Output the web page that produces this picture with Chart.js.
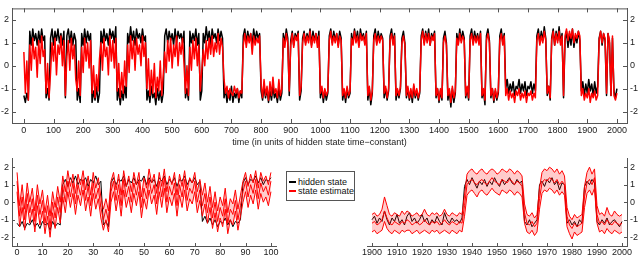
<!DOCTYPE html>
<html>
<head>
<meta charset="utf-8">
<script src="https://cdn.jsdelivr.net/npm/chart.js@4.4.1/dist/chart.umd.min.js"></script>
<style>
  html, body { margin: 0; padding: 0; background: #fff; }
  #wrap { position: relative; width: 640px; height: 256px; overflow: hidden; font-family: "Liberation Sans", Arial, sans-serif; }
  canvas { position: absolute; }
  #topChart { left: 0; top: 0; }
  #leftChart { left: 0; top: 150px; }
  #rightChart { left: 350px; top: 150px; }
  #legend { position: absolute; left: 286px; top: 171px; width: 67px; height: 28px; border: 1px solid #555; background: #fff; font-size: 9px; color: #111; }
  .item { position: absolute; left: 2px; height: 10px; line-height: 10px; white-space: nowrap; }
  .item i { display: inline-block; width: 7px; height: 2px; vertical-align: middle; margin-right: 2px; margin-top: -1px; }
</style>
</head>
<body>
<div id="wrap">
  <canvas id="topChart" width="640" height="150"></canvas>
  <canvas id="leftChart" width="290" height="106"></canvas>
  <canvas id="rightChart" width="290" height="106"></canvas>
  <div id="legend">
    <div class="item" style="top:5px"><i style="background:#000"></i>hidden state</div>
    <div class="item" style="top:14px"><i style="background:#f00"></i>state estimate</div>
  </div>
</div>
<script>
"use strict";

// tick labels
const topTicksX = [0, 100, 200, 300, 400, 500, 600, 700, 800, 900, 1000, 1100, 1200, 1300, 1400, 1500, 1600, 1700, 1800, 1900, 2000];
const leftTicksX = [0, 10, 20, 30, 40, 50, 60, 70, 80, 90, 100];
const rightTicksX = [1900, 1910, 1920, 1930, 1940, 1950, 1960, 1970, 1980, 1990, 2000];
const yTicks = [-2, -1, 0, 1, 2];

// top panel, one value every 5 time units from 0 to 2000
const TOP_STEP = 5;
const topHidden = [
  -1.3,-1.6,-1.2,-1.5,
  1.5,0.9,1.6,1.1,1.4,0.9,1.5,1.0,1.6,1.1,1.3,
  -1.4,-1.0,-1.5,
  1.2,1.6,0.9,1.5,1.1,1.6,1.0,1.4,0.9,1.5,
  -1.4,
  1.3,1.6,1.0,1.5,0.9,1.4,1.1,
  -1.5,-1.0,-1.6,
  1.4,0.9,1.6,1.0,1.5,1.1,1.4,
  -1.6,-1.1,-1.5,-0.9,-1.6,-1.2,
  1.5,1.0,1.6,1.1,1.4,0.9,1.6,1.2,1.5,1.0,1.7,
  -1.5,-1.0,-1.7,-1.1,-1.5,-0.9,-1.4,
  1.4,1.0,1.7,1.1,1.5,0.9,1.6,1.2,1.4,1.0,1.6,1.1,1.3,
  -1.5,-1.1,-1.6,-0.9,-1.4,-1.2,-1.7,-1.0,-1.5,-1.1,-1.6,-1.2,
  1.3,1.6,1.0,1.5,1.1,1.4,0.9,1.6,1.0,1.5,1.2,1.4,1.0,1.5,
  -1.4,-1.0,-1.5,
  1.5,1.0,1.4,1.1,1.6,0.9,1.4,
  -1.5,-1.1,
  1.4,1.0,1.7,1.1,1.5,0.9,1.6,1.2,1.4,1.0,1.6,1.1,1.5,1.2,
  -1.4,-1.0,-1.6,-1.1,-1.5,-0.9,-1.6,-1.2,-1.4,-1.0,-1.6,-1.1,-1.4,
  1.3,1.6,1.0,1.5,1.1,1.4,0.9,1.6,1.1,1.5,1.2,1.4,
  -1.1,-1.5,-0.9,-1.4,-1.0,-1.6,-1.1,-1.5,-0.9,-1.4,-1.2,-1.6,-1.0,-1.5,-1.2,
  1.4,1.0,1.6,1.2,
  -1.3,
  1.1,1.5,0.9,1.4,1.2,1.5,
  -1.5,-1.1,
  1.2,1.5,1.0,1.4,1.1,1.6,0.9,1.5,1.1,1.4,1.0,1.5,
  -1.4,-1.0,-1.6,-1.1,-1.5,-1.2,
  1.3,1.6,1.0,1.5,1.1,1.4,0.9,1.5,1.2,
  -1.5,-1.1,-1.6,-1.0,-1.4,-1.2,
  1.4,1.0,1.6,1.1,1.5,0.9,1.6,1.2,1.4,1.0,1.5,
  -1.5,-1.0,-1.7,-1.2,
  1.3,1.6,1.0,1.5,1.1,1.4,1.2,
  -1.4,-1.0,-1.5,-1.1,
  1.3,1.6,1.0,1.4,
  -1.5,-1.1,-1.4,-1.0,
  1.2,1.5,1.0,
  -1.4,-1.0,-1.5,-1.1,-1.6,-0.9,-1.4,-1.1,-1.5,-1.2,
  1.3,1.6,1.0,1.5,1.1,1.6,0.9,1.4,1.2,1.5,
  -1.4,-1.0,-1.6,-1.1,-1.5,
  1.2,1.5,1.0,
  -1.5,-1.1,-1.8,-1.0,-1.6,-1.2,
  1.4,1.0,1.6,1.1,1.5,1.2,
  -1.4,-1.0,-1.5,
  1.3,1.6,1.0,1.5,1.1,1.4,1.0,1.5,
  -1.4,-1.1,-1.7,
  1.3,1.6,1.1,
  -1.4,-1.0,-1.6,-1.1,-1.5,-1.2,
  1.3,1.6,1.0,1.4,
  -1.0,-0.6,-1.2,-0.8,-1.1,-0.7,-1.3,-0.9,-1.0,-0.6,-1.2,-0.8,-1.1,-0.7,-1.3,-0.9,-1.0,-0.7,-1.2,-0.8,-1.1,
  1.3,1.6,1.0,1.5,1.1,1.7,1.2,
  -1.3,-0.9,-1.5,
  1.2,1.6,0.9,1.5,1.1,1.7,1.0,1.4,
  -1.4,
  1.1,1.5,0.8,1.4,0.9,1.6,0.8,1.3,1.0,1.5,1.1,
  -1.1,-0.7,-1.3,-0.8,-1.2,-0.6,-1.1,-0.8,-1.3,-0.7,-1.2,-0.9,
  1.2,1.5,0.9,1.4,1.1,
  -1.3,
  1.4,1.0,
  -1.3,
  1.2,
  -1.1,-1.4,-1.0
];
const topEstimate = [
  0.6,-1.2,0.2,-1.5,
  0.9,-0.2,1.2,0.3,0.8,-0.5,1.1,0.1,1.3,0.4,0.7,
  -1.2,0.1,-1.4,
  -0.3,1.0,0.2,1.2,-0.4,0.9,0.5,1.3,0.0,1.1,
  -1.3,
  0.4,1.1,-0.2,1.2,0.3,0.9,-0.6,
  -1.1,0.2,-1.3,
  0.8,-0.3,1.2,0.2,1.0,-0.1,1.1,
  -1.2,0.0,-1.4,-0.4,-1.1,0.3,
  1.0,-0.2,1.2,0.4,0.8,-0.4,1.3,0.2,1.1,-0.1,1.2,
  -1.1,0.1,-1.4,-0.3,-1.2,0.2,-0.9,
  0.9,-0.3,1.3,0.3,1.1,-0.2,1.2,0.5,0.9,0.0,1.3,0.4,1.0,
  -1.0,0.3,-1.3,-0.2,-1.2,0.1,-1.4,-0.5,-1.1,0.2,-1.3,-0.4,
  0.6,-0.3,1.1,0.2,1.2,-0.1,0.9,0.4,1.3,0.0,1.0,0.5,1.2,0.1,
  -1.2,0.0,-1.3,
  0.8,-0.2,1.1,0.3,1.2,0.0,0.9,
  -1.1,-0.2,
  0.7,0.0,1.1,0.3,1.2,0.5,1.3,0.4,1.0,0.6,1.4,0.5,1.2,0.8,
  -0.6,-1.2,-0.9,-1.4,-1.0,-1.2,-1.3,-0.9,-1.2,-1.0,-1.4,-1.1,-1.2,
  0.9,1.4,0.8,1.3,1.0,1.4,0.5,1.3,0.9,1.2,1.0,1.3,
  -0.8,-1.4,-0.6,-1.3,-0.9,-1.5,-0.7,-1.3,-0.5,-1.2,-1.0,-1.4,-0.6,-1.3,-1.0,
  1.2,0.8,1.4,1.0,
  -1.1,
  0.9,1.4,0.8,1.3,1.1,1.4,
  -1.3,-0.9,
  1.0,1.4,0.9,1.3,1.0,1.5,0.8,1.3,1.0,1.4,0.8,1.3,
  -1.2,-0.9,-1.4,-1.0,-1.3,-1.1,
  1.1,1.5,0.9,1.3,1.0,1.4,0.8,1.3,1.1,
  -1.3,-1.0,-1.4,-0.9,-1.3,-1.1,
  1.2,0.9,1.5,1.0,1.3,0.8,1.4,1.1,1.3,0.9,1.4,
  -1.3,-0.9,-1.5,-1.1,
  1.1,1.4,0.9,1.3,1.0,1.3,1.1,
  -1.2,-0.9,-1.4,-1.0,
  1.1,1.4,0.9,1.3,
  -1.3,-1.0,-1.3,-0.9,
  1.0,1.3,0.9,
  -1.3,-0.9,-1.4,-1.0,-1.4,-0.8,-1.3,-1.0,-1.4,-1.1,
  1.1,1.5,0.9,1.4,1.0,1.4,0.9,1.3,1.1,1.4,
  -1.3,-1.0,-1.5,-1.0,-1.4,
  1.0,1.3,0.9,
  -1.3,-1.0,-1.6,-0.9,-1.4,-1.1,
  1.2,0.9,1.4,1.0,1.3,1.1,
  -1.3,-0.9,-1.4,
  1.1,1.4,0.9,1.3,1.0,1.3,0.9,1.4,
  -1.3,-1.0,-1.5,
  1.1,1.4,1.0,
  -1.3,-1.0,-1.5,-1.0,-1.4,-1.1,
  1.1,1.4,0.9,1.3,
  -1.3,-1.0,-1.5,-1.1,-1.4,-1.2,-1.6,-1.1,-1.3,-1.0,-1.5,-1.2,-1.4,-1.1,-1.6,-1.2,-1.3,-1.1,-1.5,-1.2,-1.4,
  1.1,1.4,0.9,1.3,1.0,1.5,1.1,
  -1.2,-0.9,-1.4,
  1.1,1.5,0.9,1.4,1.0,1.5,0.9,1.3,
  -1.3,
  1.3,1.6,1.1,1.5,1.2,1.6,1.0,1.4,1.2,1.5,1.3,
  -1.3,-1.0,-1.5,-1.2,-1.4,-1.0,-1.6,-1.2,-1.4,-1.1,-1.5,-1.3,
  1.1,1.5,1.0,1.4,1.2,
  -1.2,
  1.4,1.1,
  -1.3,
  1.3,
  -1.3,-1.5,-1.2
];

// bottom left panel, t = 0..100
const leftHidden = [
  -1.2,-1.4,-1.1,-1.5,-1.2,-1.3,-1.0,-1.4,-1.2,-1.5,-1.1,-1.3,-1.2,-1.6,-1.1,-1.4,-1.2,-1.3,
  1.0,1.3,0.9,1.4,1.1,1.5,1.0,1.3,1.2,1.4,0.9,1.3,1.1,1.5,1.0,1.2,
  -1.3,-1.1,-1.4,
  1.1,1.4,1.0,1.3,1.2,1.5,0.9,1.3,1.1,1.4,1.0,1.3,1.2,1.5,1.0,1.4,1.1,1.3,0.9,1.4,1.2,1.5,1.0,1.3,1.1,1.4,0.9,1.3,1.2,1.5,1.0,1.3,1.1,1.4,1.0,1.2,
  -1.1,-0.8,-1.2,-0.9,-1.3,-1.0,-1.4,-1.1,-1.2,-0.9,-1.3,-1.0,-1.4,-1.1,-1.2,-1.0,
  1.1,1.4,1.0,1.3,1.2,1.5,1.1,1.4,1.0,1.3,1.2,1.4
];
const leftEstimate = [
  1.2,-0.8,0.3,-1.0,0.5,-0.6,0.2,-1.1,0.4,-0.7,0.1,-1.2,-0.2,-1.4,0.0,-0.9,0.3,-0.6,
  0.9,0.0,1.2,0.3,1.1,-0.1,1.0,0.4,1.3,0.1,0.9,-0.2,1.1,0.2,0.8,-0.3,
  -1.0,-0.4,-1.1,
  0.6,1.2,0.1,1.0,-0.2,1.3,0.3,0.9,0.0,1.1,0.4,1.2,-0.3,0.8,0.2,1.3,0.5,1.0,-0.1,1.2,0.3,1.4,0.0,0.9,0.4,1.1,-0.2,1.0,0.3,1.3,0.1,0.8,0.5,1.2,0.0,0.7,
  -0.2,0.5,-0.6,0.3,-0.9,0.0,-1.1,-0.3,-0.8,0.2,-1.2,-0.4,-0.7,0.1,-1.0,-0.2,
  0.6,1.2,0.3,1.0,0.5,1.3,0.2,1.1,0.6,0.9,0.4,1.2
];
const leftUpper = [
  1.7,-0.2,1.0,-0.4,1.1,0.0,0.8,-0.5,1.0,-0.1,0.7,-0.6,0.4,-0.8,0.6,-0.3,0.9,0.0,
  1.5,0.6,1.8,0.9,1.6,0.5,1.6,1.0,1.8,0.7,1.5,0.4,1.7,0.8,1.4,0.3,
  -0.4,0.2,-0.5,
  1.2,1.7,0.7,1.6,0.4,1.8,0.9,1.5,0.6,1.7,1.0,1.7,0.3,1.4,0.8,1.9,1.1,1.6,0.5,1.7,0.9,1.9,0.6,1.5,1.0,1.7,0.4,1.6,0.9,1.8,0.7,1.4,1.1,1.7,0.6,1.3,
  0.4,1.1,0.0,0.9,-0.3,0.6,-0.5,0.3,-0.2,0.8,-0.6,0.2,-0.1,0.7,-0.4,0.4,
  1.2,1.7,0.9,1.6,1.1,1.8,0.8,1.7,1.2,1.5,1.0,1.7
];
const leftLower = [
  0.6,-1.4,-0.3,-1.6,-0.1,-1.2,-0.4,-1.7,-0.2,-1.3,-0.5,-1.8,-0.8,-2.0,-0.6,-1.5,-0.3,-1.2,
  0.3,-0.6,0.6,-0.3,0.5,-0.7,0.4,-0.2,0.7,-0.5,0.3,-0.8,0.5,-0.4,0.2,-0.9,
  -1.6,-1.0,-1.7,
  0.0,0.6,-0.5,0.4,-0.8,0.7,-0.3,0.3,-0.6,0.5,-0.2,0.6,-0.9,0.2,-0.4,0.7,-0.1,0.4,-0.7,0.6,-0.3,0.8,-0.6,0.3,-0.2,0.5,-0.8,0.4,-0.3,0.7,-0.5,0.2,-0.1,0.6,-0.6,0.1,
  -0.8,-0.1,-1.2,-0.3,-1.5,-0.6,-1.7,-0.9,-1.4,-0.4,-1.8,-1.0,-1.3,-0.5,-1.6,-0.8,
  0.0,0.6,-0.3,0.4,-0.1,0.7,-0.4,0.5,0.0,0.3,-0.2,0.6
];

// bottom right panel, t = 1900..2000
const rightHidden = [
  -1.0,-0.8,-1.2,-0.9,-1.1,-0.5,-1.0,-1.3,-0.9,-1.1,-0.7,-1.2,-1.0,-1.3,-0.8,-0.6,-1.1,-0.9,-1.2,-1.0,-0.7,-1.1,-0.9,-1.3,-1.0,-1.2,-0.8,-1.1,-1.3,-0.6,-1.0,-1.2,-0.9,-1.1,-1.0,-1.2,-0.9,
  0.9,1.3,1.0,1.4,1.1,0.8,1.2,1.0,1.3,0.9,1.2,1.0,1.4,1.1,0.9,1.3,1.0,1.2,1.4,1.1,1.0,1.3,1.1,1.2,
  -1.1,-1.3,-1.0,-1.4,-1.2,-1.0,
  1.0,1.2,0.9,1.3,1.1,1.4,1.0,1.2,0.7,1.1,1.0,
  -1.2,-1.0,-1.3,-1.1,-1.4,-1.0,-1.2,
  0.9,1.2,1.0,1.3,1.1,
  -1.1,-1.3,-1.0,-1.2,-0.9,-1.3,-1.1,-1.0,-1.2,-1.4,-1.1
];
const rightEstimate = [
  -1.2,-1.1,-1.3,-1.2,-1.0,-0.5,-0.9,-1.2,-1.3,-1.1,-1.2,-1.3,-1.1,-1.2,-1.0,-1.1,-1.3,-1.2,-1.1,-1.3,-1.2,-1.0,-1.2,-1.3,-1.1,-1.2,-1.1,-1.3,-1.2,-1.0,-1.2,-1.3,-1.1,-1.2,-1.3,-1.1,-1.2,
  -0.2,1.0,1.2,1.3,1.1,1.0,1.2,1.3,1.1,1.0,1.2,1.4,1.2,1.1,1.0,1.3,1.2,1.1,1.3,1.2,1.0,1.2,1.1,0.9,
  -0.6,-1.2,-1.3,-1.1,-1.4,-1.2,
  0.2,1.1,1.3,1.2,1.4,1.3,1.1,1.3,1.0,1.2,1.0,
  -0.8,-1.3,-1.5,-1.2,-1.4,-1.3,-1.2,
  0.3,1.1,1.3,1.0,1.4,
  -0.7,-1.2,-1.1,-1.3,-1.0,-1.2,-1.3,-1.1,-1.2,-1.3,-1.2
];
const rightUpper = [
  -0.7,-0.6,-0.8,-0.7,-0.4,0.3,-0.2,-0.7,-0.8,-0.6,-0.7,-0.8,-0.5,-0.7,-0.5,-0.6,-0.8,-0.7,-0.6,-0.8,-0.7,-0.4,-0.7,-0.8,-0.6,-0.7,-0.6,-0.8,-0.7,-0.4,-0.7,-0.8,-0.6,-0.7,-0.8,-0.6,-0.7,
  0.4,1.6,1.8,1.9,1.7,1.6,1.8,1.9,1.7,1.6,1.8,1.9,1.8,1.6,1.7,1.9,1.8,1.7,1.9,1.8,1.6,1.8,1.7,1.5,
  -0.1,-0.7,-0.8,-0.6,-0.9,-0.7,
  0.8,1.7,1.9,1.8,2.0,1.9,1.7,1.9,1.6,1.8,1.5,
  -0.3,-0.8,-1.0,-0.7,-0.9,-0.8,-0.7,
  0.9,1.7,2.0,1.6,1.9,
  -0.2,-0.7,-0.6,-0.8,-0.3,-0.7,-0.8,-0.5,-0.7,-0.8,-0.7
];
const rightLower = [
  -1.7,-1.6,-1.8,-1.7,-1.6,-1.1,-1.5,-1.7,-1.8,-1.6,-1.7,-1.8,-1.6,-1.7,-1.6,-1.6,-1.8,-1.7,-1.6,-1.8,-1.7,-1.6,-1.7,-1.8,-1.6,-1.7,-1.6,-1.8,-1.7,-1.6,-1.7,-1.8,-1.6,-1.7,-1.8,-1.6,-1.7,
  -0.8,0.4,0.6,0.7,0.5,0.3,0.6,0.7,0.5,0.4,0.6,0.8,0.6,0.5,0.4,0.7,0.6,0.5,0.7,0.6,0.4,0.6,0.5,0.3,
  -1.2,-1.7,-1.8,-1.6,-1.9,-1.7,
  -0.4,0.5,0.7,0.6,0.8,0.7,0.5,0.7,0.4,0.6,0.4,
  -1.4,-1.8,-2.1,-1.7,-1.9,-1.8,-1.7,
  -0.3,0.5,0.7,0.4,0.8,
  -1.2,-1.7,-1.6,-1.8,-1.5,-1.7,-1.8,-1.6,-1.7,-1.8,-1.7
];

const RED = '#ff0000';
const BLACK = '#000000';
const PINK = 'rgba(255, 0, 0, 0.2)';
const AXIS = '#555555';
const TEXT = '#1a1a1a';
const FONT = { family: '"Liberation Sans", Arial, sans-serif', size: 9 };

function pts(values, start, step) {
	return values.map((y, i) => ({ x: start + i * step, y }));
}

function line(label, data, color, order, width, extra) {
	return Object.assign({
		label, data, order,
		borderColor: color,
		borderWidth: width,
		borderJoinStyle: 'round',
		pointRadius: 0,
		tension: 0,
		fill: false
	}, extra || {});
}

function fixedTicks(values) {
	return scale => { scale.ticks = values.map(v => ({ value: v })); };
}

function yScale(position, width) {
	return {
		type: 'linear', position, min: -2.5, max: 2.5,
		afterBuildTicks: fixedTicks(yTicks),
		afterFit: s => { s.width = width; },
		grid: { display: false, drawTicks: false },
		border: { display: true, color: AXIS },
		ticks: { font: FONT, color: TEXT, padding: 3, callback: v => String(v) }
	};
}

function xScale(min, max, tickValues, height, padding, title) {
	const s = {
		type: 'linear', position: 'bottom', min, max,
		afterBuildTicks: fixedTicks(tickValues),
		afterFit: sc => { sc.height = height; },
		grid: { display: false, drawTicks: false },
		border: { display: true, color: AXIS },
		ticks: { font: FONT, color: TEXT, padding, maxRotation: 0, autoSkip: false, callback: v => String(v) }
	};
	if (title) {
		s.title = { display: true, text: title, font: FONT, color: TEXT, padding: { top: 0, bottom: 2 } };
	}
	return s;
}

// matlab style ticks pointing into the plot, optional closed box
const insideTicks = {
	id: 'insideTicks',
	afterDraw(chart, args, opts) {
		const { ctx, chartArea: a, scales } = chart;
		const len = opts.len;
		ctx.save();
		ctx.strokeStyle = AXIS;
		ctx.lineWidth = 1;
		ctx.beginPath();
		scales.x.ticks.forEach(t => {
			const px = Math.round(scales.x.getPixelForValue(t.value)) + 0.5;
			ctx.moveTo(px, a.bottom);
			ctx.lineTo(px, a.bottom - len);
			if (opts.box) {
				ctx.moveTo(px, a.top);
				ctx.lineTo(px, a.top + len);
			}
		});
		scales.y.ticks.forEach(t => {
			const py = Math.round(scales.y.getPixelForValue(t.value)) + 0.5;
			if (opts.side === 'left' || opts.box) {
				ctx.moveTo(a.left, py);
				ctx.lineTo(a.left + len, py);
			}
			if (opts.side === 'right' || opts.box) {
				ctx.moveTo(a.right, py);
				ctx.lineTo(a.right - len, py);
			}
		});
		if (opts.box) {
			ctx.moveTo(a.left, a.top + 0.5);
			ctx.lineTo(a.right, a.top + 0.5);
		}
		ctx.stroke();
		ctx.restore();
	}
};

function baseOptions(padding, scales, tickOpts) {
	return {
		responsive: false,
		animation: false,
		devicePixelRatio: 1,
		layout: { padding },
		plugins: { legend: { display: false }, tooltip: { enabled: false }, insideTicks: tickOpts },
		scales
	};
}

new Chart(document.getElementById('topChart'), {
	type: 'line',
	data: {
		datasets: [
			line('state estimate', pts(topEstimate, 0, TOP_STEP), RED, 0, 1.5),
			line('hidden state', pts(topHidden, 0, TOP_STEP), BLACK, 1, 1.5)
		]
	},
	options: baseOptions(
		{ top: 1, left: 0, right: 0, bottom: 0 },
		{
			x: xScale(-40, 2034, topTicksX, 27, 2, 'time (in units of hidden state time\u2212constant)'),
			y: yScale('left', 12),
			y2: yScale('right', 13)
		},
		{ len: 4, box: true, side: 'left' }
	),
	plugins: [insideTicks]
});

new Chart(document.getElementById('leftChart'), {
	type: 'line',
	data: {
		datasets: [
			line('state estimate', pts(leftEstimate, 0, 1), RED, 0, 1),
			line('upper', pts(leftUpper, 0, 1), RED, 1, 1),
			line('lower', pts(leftLower, 0, 1), RED, 1, 1, { fill: '-1', backgroundColor: PINK }),
			line('hidden state', pts(leftHidden, 0, 1), BLACK, 2, 1)
		]
	},
	options: baseOptions(
		{ top: 4, left: 0, right: 14, bottom: 0 },
		{
			x: xScale(-2, 102, leftTicksX, 10, 1),
			y: yScale('left', 12)
		},
		{ len: 3, box: false, side: 'left' }
	),
	plugins: [insideTicks]
});

new Chart(document.getElementById('rightChart'), {
	type: 'line',
	data: {
		datasets: [
			line('state estimate', pts(rightEstimate, 1900, 1), RED, 0, 1),
			line('upper', pts(rightUpper, 1900, 1), RED, 1, 1),
			line('lower', pts(rightLower, 1900, 1), RED, 1, 1, { fill: '-1', backgroundColor: PINK }),
			line('hidden state', pts(rightHidden, 1900, 1), BLACK, 2, 1)
		]
	},
	options: baseOptions(
		{ top: 4, left: 17, right: 0, bottom: 0 },
		{
			x: xScale(1898, 2002, rightTicksX, 10, 1),
			y: yScale('right', 13)
		},
		{ len: 3, box: false, side: 'right' }
	),
	plugins: [insideTicks]
});
</script>
</body>
</html>
